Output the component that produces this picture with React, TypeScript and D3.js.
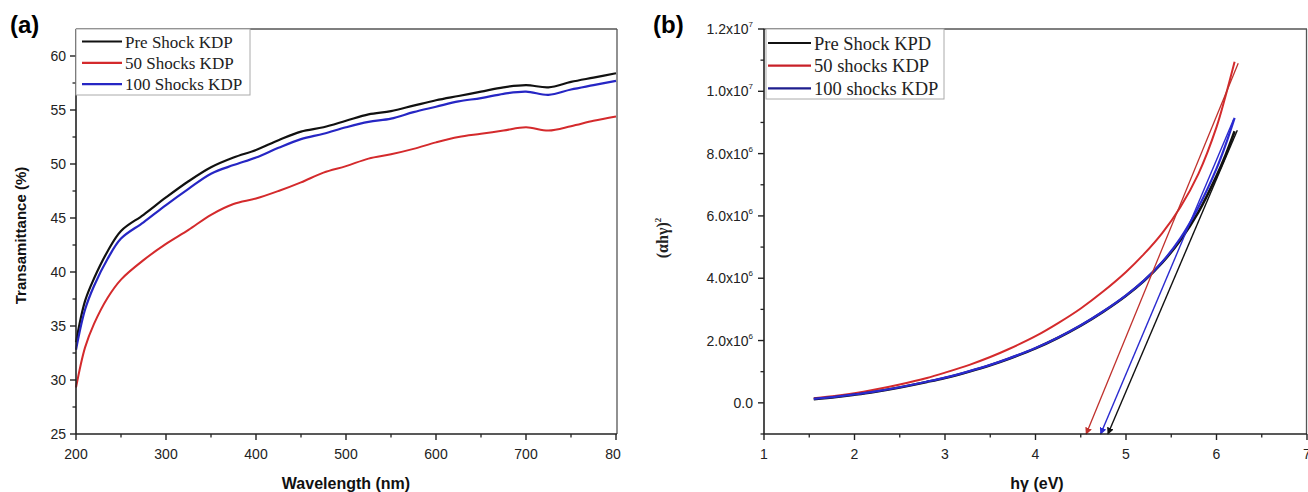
import React from "react";
import * as d3 from "d3";

// ---------- Panel (a): transmittance ----------
const wavelength = [200, 210, 220, 235, 250, 275, 300, 325, 350, 375, 400, 425, 450, 475, 500, 525, 550, 575, 600, 625, 650, 675, 700, 725, 750, 775, 800];
const preShockT = [33.5, 37.3, 39.4, 41.9, 43.8, 45.3, 46.9, 48.4, 49.7, 50.6, 51.3, 52.2, 53.0, 53.4, 54.0, 54.6, 54.9, 55.4, 55.9, 56.3, 56.7, 57.1, 57.3, 57.1, 57.6, 58.0, 58.4];
const shocks50T = [29.3, 33.0, 35.2, 37.6, 39.3, 41.1, 42.6, 43.9, 45.3, 46.3, 46.8, 47.5, 48.3, 49.2, 49.8, 50.5, 50.9, 51.4, 52.0, 52.5, 52.8, 53.1, 53.4, 53.1, 53.5, 54.0, 54.4];
const shocks100T = [32.8, 36.5, 38.7, 41.2, 43.1, 44.6, 46.2, 47.7, 49.1, 49.9, 50.6, 51.5, 52.3, 52.8, 53.4, 53.9, 54.2, 54.8, 55.3, 55.8, 56.1, 56.5, 56.7, 56.4, 56.9, 57.3, 57.7];
const xTicksA = [200, 300, 400, 500, 600, 700, 800];
const xTickLabelsA = ["200", "300", "400", "500", "600", "700", "80"];
const yTicksA = [25, 30, 35, 40, 45, 50, 55, 60];
const legendA = ["Pre Shock KDP", "50 Shocks KDP", "100 Shocks KDP"];

// ---------- Panel (b): Tauc plot (values in units of 10^6) ----------
const energy = [1.55, 1.8, 2.0, 2.2, 2.5, 2.8, 3.0, 3.27, 3.5, 3.7, 4.0, 4.25, 4.5, 4.75, 5.0, 5.2, 5.4, 5.6, 5.8, 6.0, 6.1, 6.2];
const preShockA = [0.12, 0.19, 0.26, 0.34, 0.49, 0.67, 0.8, 1.01, 1.21, 1.41, 1.75, 2.09, 2.48, 2.93, 3.44, 3.92, 4.5, 5.22, 6.12, 7.28, 7.95, 8.72];
const shocks50A = [0.15, 0.23, 0.31, 0.41, 0.59, 0.8, 0.97, 1.22, 1.47, 1.72, 2.14, 2.56, 3.03, 3.58, 4.2, 4.78, 5.45, 6.28, 7.35, 8.85, 9.85, 10.95];
const shocks100A = [0.13, 0.2, 0.27, 0.35, 0.5, 0.68, 0.81, 1.02, 1.22, 1.42, 1.76, 2.1, 2.49, 2.94, 3.45, 3.93, 4.52, 5.28, 6.28, 7.52, 8.28, 9.15];
// linear-fit tangents: top point then x-axis-bottom point
const tangentPreX = [6.23, 4.8];
const tangentPreY = [8.75, -1];
const tangent50X = [6.24, 4.56];
const tangent50Y = [10.9, -1];
const tangent100X = [6.19, 4.72];
const tangent100Y = [9.1, -1];
const xTicksB = [1, 2, 3, 4, 5, 6, 7];
const yTicksB = [0, 2, 4, 6, 8, 10, 12];
const yTickMantB = ["0.0", "2.0x10", "4.0x10", "6.0x10", "8.0x10", "1.0x10", "1.2x10"];
const yTickExpB = ["", "6", "6", "6", "6", "7", "7"];
const legendB = ["Pre Shock KPD", "50 shocks KDP", "100 shocks KDP"];

const BLACK = "#111111";
const RED = "#d42a2c";
const BLUE = "#2626c4";
const BLUE_B = "#2a2ad0";
const RED_T = "#c0302c";

const W = 1308;
const H = 492;

export default function App() {
  // panel a geometry
  const aL = 76, aR = 617, aT = 29, aB = 434;
  const xA = d3.scaleLinear().domain([200, 800]).range([aL, aR - 1]);
  const yA = d3.scaleLinear().domain([25, 62.5]).range([aB, aT]);
  const lineA = (vals: number[]) =>
    d3.line<number>().x((_, i) => xA(wavelength[i])).y((v) => yA(v)).curve(d3.curveCatmullRom.alpha(0.5))(vals) || "";
  const xMinorA = d3.range(250, 800, 100);
  const yMinorA = d3.range(27.5, 62, 5);

  // panel b geometry
  const bL = 764, bR = 1307, bT = 29, bB = 434;
  const xB = d3.scaleLinear().domain([1, 7]).range([bL, bR]);
  const yB = d3.scaleLinear().domain([-1, 12]).range([bB, bT]);
  const lineB = (xs: number[], vals: number[], curve = true) => {
    const l = d3.line<number>().x((_, i) => xB(xs[i])).y((v) => yB(v));
    if (curve) l.curve(d3.curveCatmullRom.alpha(0.5));
    return l(vals) || "";
  };
  const xMinorB = d3.range(1.5, 7, 1);
  const yMinorB = d3.range(-1, 12, 2);

  const axisFont = "Arial, 'Liberation Sans', sans-serif";
  const serif = "'Liberation Serif', 'Times New Roman', serif";

  return (
    <svg width={W} height={H} style={{ position: "absolute", left: 0, top: 0, background: "#fff" }}>
      <defs>
        {[["arrBlack", BLACK], ["arrRed", RED_T], ["arrBlue", BLUE_B]].map(([id, c]) => (
          <marker key={id} id={id} viewBox="0 0 10 10" refX="9" refY="5" markerWidth="7" markerHeight="7" markerUnits="userSpaceOnUse" orient="auto">
            <path d="M0,0 L10,5 L0,10 z" fill={c} />
          </marker>
        ))}
      </defs>

      {/* ================= Panel (a) ================= */}
      <text x={10} y={33} fontFamily={axisFont} fontWeight="bold" fontSize={24} fill="#000">(a)</text>
      <line x1={aL} y1={aT} x2={aR} y2={aT} stroke="#555" strokeWidth={1.3} />
      <line x1={aR} y1={aT} x2={aR} y2={aB} stroke="#555" strokeWidth={1.3} />
      <path d={lineA(shocks50T)} fill="none" stroke={RED} strokeWidth={2} />
      <path d={lineA(preShockT)} fill="none" stroke={BLACK} strokeWidth={2.2} />
      <path d={lineA(shocks100T)} fill="none" stroke={BLUE} strokeWidth={2.2} />
      <line x1={aL} y1={aT} x2={aL} y2={aB} stroke="#222" strokeWidth={1.6} />
      <line x1={aL} y1={aB} x2={aR} y2={aB} stroke="#222" strokeWidth={1.6} />
      {xTicksA.map((t, i) => (
        <g key={"xa" + t}>
          <line x1={xA(t)} x2={xA(t)} y1={aB} y2={aB + 6} stroke="#222" strokeWidth={1.4} />
          <text x={i === xTicksA.length - 1 ? xA(t) - 3 : xA(t)} y={459} textAnchor="middle" fontFamily={axisFont} fontSize={14} fill="#222">{xTickLabelsA[i]}</text>
        </g>
      ))}
      {xMinorA.map((t) => (
        <line key={"xam" + t} x1={xA(t)} x2={xA(t)} y1={aB} y2={aB + 3.5} stroke="#222" strokeWidth={1.3} />
      ))}
      {yTicksA.map((t) => (
        <g key={"ya" + t}>
          <line x1={aL - 6} x2={aL} y1={yA(t)} y2={yA(t)} stroke="#222" strokeWidth={1.4} />
          <text x={aL - 10} y={yA(t) + 5} textAnchor="end" fontFamily={axisFont} fontSize={14} fill="#222">{t}</text>
        </g>
      ))}
      {yMinorA.map((t) => (
        <line key={"yam" + t} x1={aL - 3.5} x2={aL} y1={yA(t)} y2={yA(t)} stroke="#222" strokeWidth={1.3} />
      ))}
      <text transform={`translate(26,${(aT + aB) / 2 + 4}) rotate(-90)`} textAnchor="middle" fontFamily={axisFont} fontWeight="bold" fontSize={15} fill="#111">Transamittance (%)</text>
      <text x={346} y={489} textAnchor="middle" fontFamily={axisFont} fontWeight="bold" fontSize={16} fill="#111">Wavelength (nm)</text>
      <rect x={aL} y={aT} width={174} height={66} fill="#fff" stroke="#aaa" strokeWidth={1} />
      {legendA.map((name, i) => {
        const cy = 41.5 + i * 21.3;
        const c = [BLACK, RED, BLUE][i];
        return (
          <g key={"la" + i}>
            <line x1={82} x2={122} y1={cy} y2={cy} stroke={c} strokeWidth={2.2} />
            <text x={125} y={cy + 6} fontFamily={serif} fontSize={17} fill="#222">{name}</text>
          </g>
        );
      })}

      {/* ================= Panel (b) ================= */}
      <text x={653} y={33} fontFamily={axisFont} fontWeight="bold" fontSize={24} fill="#000">(b)</text>
      <line x1={bL} y1={bT} x2={bR} y2={bT} stroke="#555" strokeWidth={1.3} />
      <line x1={bR - 0.5} y1={bT} x2={bR - 0.5} y2={bB} stroke="#555" strokeWidth={1.3} />
      <path d={lineB(energy, shocks50A)} fill="none" stroke={RED} strokeWidth={2} />
      <path d={lineB(energy, preShockA)} fill="none" stroke={BLACK} strokeWidth={2.6} />
      <path d={lineB(energy, shocks100A)} fill="none" stroke={BLUE_B} strokeWidth={2.2} />
      <path d={lineB(tangent50X, tangent50Y, false)} fill="none" stroke={RED_T} strokeWidth={1.3} markerEnd="url(#arrRed)" />
      <path d={lineB(tangentPreX, tangentPreY, false)} fill="none" stroke={BLACK} strokeWidth={1.4} markerEnd="url(#arrBlack)" />
      <path d={lineB(tangent100X, tangent100Y, false)} fill="none" stroke={BLUE_B} strokeWidth={1.4} markerEnd="url(#arrBlue)" />
      <line x1={bL} y1={bT} x2={bL} y2={bB} stroke="#222" strokeWidth={1.6} />
      <line x1={bL} y1={bB} x2={bR} y2={bB} stroke="#222" strokeWidth={1.6} />
      {xTicksB.map((t) => (
        <g key={"xb" + t}>
          <line x1={xB(t)} x2={xB(t)} y1={bB} y2={bB + 6} stroke="#222" strokeWidth={1.4} />
          <text x={xB(t)} y={459} textAnchor="middle" fontFamily={axisFont} fontSize={14} fill="#222">{t}</text>
        </g>
      ))}
      {xMinorB.map((t) => (
        <line key={"xbm" + t} x1={xB(t)} x2={xB(t)} y1={bB} y2={bB + 3.5} stroke="#222" strokeWidth={1.3} />
      ))}
      {yTicksB.map((t, i) => (
        <g key={"yb" + t}>
          <line x1={bL - 6} x2={bL} y1={yB(t)} y2={yB(t)} stroke="#222" strokeWidth={1.4} />
          <text x={bL - 11} y={yB(t) + 5} textAnchor="end" fontFamily={axisFont} fontSize={14} fill="#222">
            {yTickMantB[i]}
            {yTickExpB[i] ? <tspan dy={-7} fontSize={8}>{yTickExpB[i]}</tspan> : null}
          </text>
        </g>
      ))}
      {yMinorB.map((t) => (
        <line key={"ybm" + t} x1={bL - 3.5} x2={bL} y1={yB(t)} y2={yB(t)} stroke="#222" strokeWidth={1.3} />
      ))}
      <text transform={`translate(668,238) rotate(-90)`} textAnchor="middle" fontFamily={serif} fontWeight="bold" fontSize={16} fill="#222">
        (αhγ)<tspan dy={-7} fontSize={9}>2</tspan>
      </text>
      <text x={1037} y={489} textAnchor="middle" fontFamily={axisFont} fontWeight="bold" fontSize={16} fill="#111">hγ (eV)</text>
      <rect x={bL + 2} y={bT} width={178} height={70} fill="#fff" stroke="#aaa" strokeWidth={1} />
      {legendB.map((name, i) => {
        const cy = 43 + i * 22.7;
        const c = [BLACK, "#c82028", "#1e1e8e"][i];
        return (
          <g key={"lb" + i}>
            <line x1={768} x2={811} y1={cy} y2={cy} stroke={c} strokeWidth={2.2} />
            <text x={814} y={cy + 6.5} fontFamily={serif} fontSize={18.5} fill="#222">{name}</text>
          </g>
        );
      })}
    </svg>
  );
}
